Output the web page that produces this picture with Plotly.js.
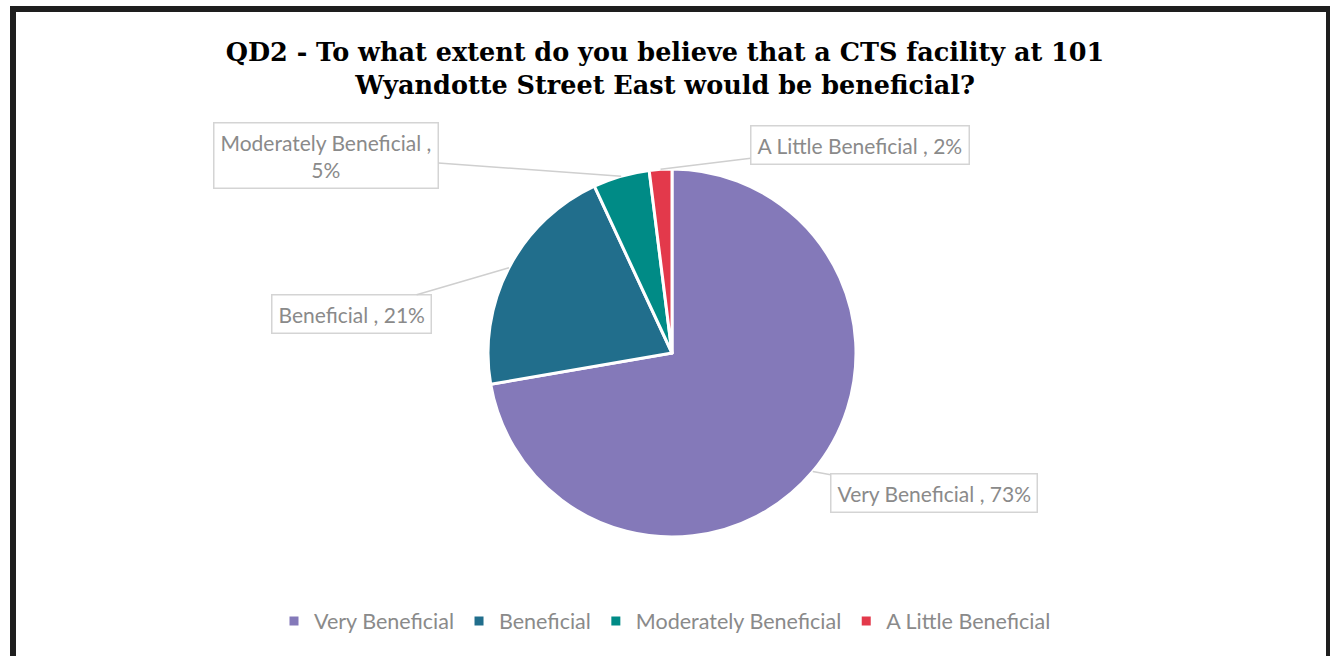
<!DOCTYPE html>
<html>
<head>
<meta charset="utf-8">
<script src="https://cdn.plot.ly/plotly-3.0.1.min.js"></script>
<style>
  html, body { margin: 0; padding: 0; background: #ffffff; overflow: hidden; }
  #chart { width: 1330px; height: 656px; }
  #frame { position: absolute; left: 10px; top: 6px; width: 1310px; height: 700px;
           border: 6px solid #1e1e1e; pointer-events: none; box-sizing: content-box; }
</style>
</head>
<body>
<div id="chart"></div>
<div id="frame"></div>
<script>
// ---- data ----
const categories = ['Very Beneficial', 'Beneficial', 'Moderately Beneficial', 'A Little Beneficial'];
const values = [73, 21, 5, 2];
const colors = ['#8479b9', '#216e8c', '#008b86', '#e3394b'];
const titleText = 'QD2 - To what extent do you believe that a CTS facility at 101<br>Wyandotte Street East would be beneficial?';

// label box placement (layout only)
const labelBoxes = [
  { cx: 934, cy: 493, wrap: false },
  { cx: 351, cy: 314, wrap: false },
  { cx: 326, cy: 155, wrap: true },
  { cx: 860, cy: 145, wrap: false }
];

const W = 1330, H = 656;
const labelFont = { family: 'Lato, "Open Sans", sans-serif', size: 21, color: '#8a8a8a' };

const trace = {
  type: 'pie',
  labels: categories,
  values: values,
  sort: false,
  direction: 'clockwise',
  rotation: 0,
  marker: { colors: colors, line: { color: '#ffffff', width: 3 } },
  textinfo: 'none',
  hoverinfo: 'label+value',
  domain: { x: [488 / W, 856 / W], y: [1 - 537 / H, 1 - 169 / H] }
};

const layout = {
  width: W, height: H,
  margin: { l: 0, r: 0, t: 0, b: 0 },
  paper_bgcolor: '#ffffff',
  showlegend: true,
  title: {
    text: titleText,
    font: { family: '"DejaVu Serif", "Liberation Serif", serif', size: 25.5, color: '#000000', weight: 'bold' },
    x: 0.5, xanchor: 'center', xref: 'paper',
    y: 1 - 61 / H, yanchor: 'top', yref: 'container'
  },
  legend: {
    orientation: 'h', x: 0.5, xanchor: 'center', y: 1 - 621 / H, yanchor: 'middle',
    font: { family: 'Lato, "Open Sans", sans-serif', size: 21.5, color: '#8a8a8a' },
    itemwidth: 30, traceorder: 'normal'
  }
};

Plotly.newPlot('chart', [trace], layout, { displayModeBar: false, staticPlot: true }).then(function (gd) {
  const cd = gd.calcdata[0];
  const cd0 = cd[0];
  const anns = [];
  cd.forEach(function (pt, i) {
    let tipX, tipY;
    if (pt.pxmid && cd0.cx !== undefined) {
      tipX = cd0.cx + pt.pxmid[0];
      tipY = cd0.cy + pt.pxmid[1];
    } else {
      const total = values.reduce((a, b) => a + b, 0);
      let start = values.slice(0, i).reduce((a, b) => a + b, 0);
      const mid = (start + values[i] / 2) / total * 2 * Math.PI;
      const r = 184, cx = 672, cy = 353;
      tipX = cx + r * Math.sin(mid); tipY = cy - r * Math.cos(mid);
    }
    const box = labelBoxes[i];
    const txt = categories[i] + ' ,' + (box.wrap ? '<br>' : ' ') + values[i] + '%';
    anns.push({
      x: tipX / W, y: 1 - tipY / H, xref: 'paper', yref: 'paper',
      ax: box.cx - tipX, ay: box.cy - tipY, axref: 'pixel', ayref: 'pixel',
      text: txt, showarrow: true, arrowhead: 0, arrowwidth: 1.5, arrowcolor: '#cfcfcf', standoff: 0,
      font: labelFont, align: 'center',
      bordercolor: '#d4d4d4', borderwidth: 1.5, borderpad: 6, bgcolor: '#ffffff'
    });
  });
  return Plotly.relayout(gd, { annotations: anns });
});
</script>
</body>
</html>
